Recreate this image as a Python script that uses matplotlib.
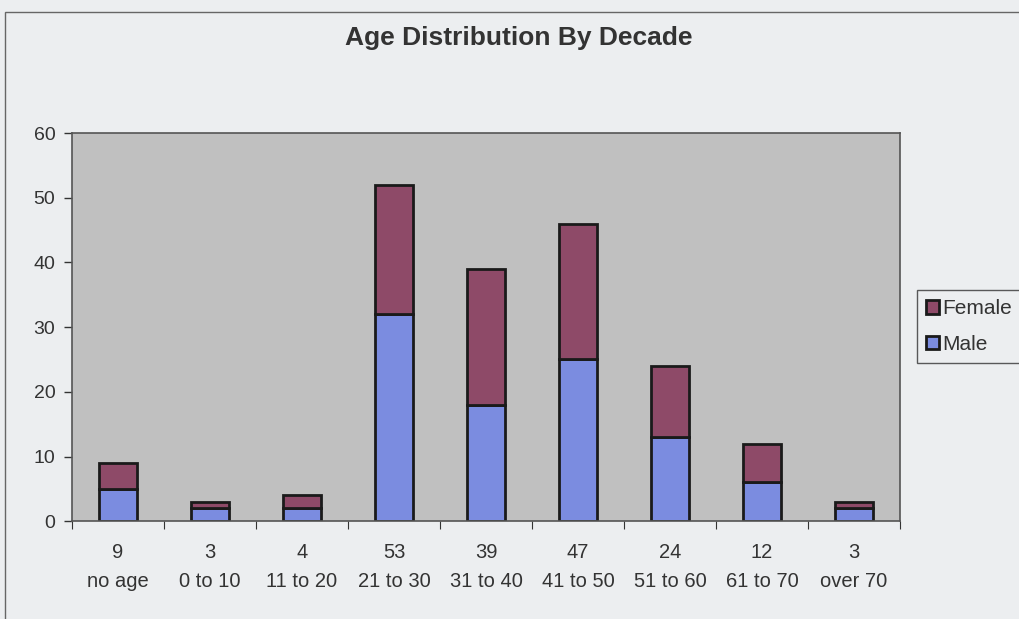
import matplotlib
matplotlib.use('Agg')
import matplotlib.pyplot as plt
from matplotlib.patches import Rectangle
import numpy as np

# data
age_groups = ['no age', '0 to 10', '11 to 20', '21 to 30', '31 to 40', '41 to 50', '51 to 60', '61 to 70', 'over 70']
group_totals = [9, 3, 4, 53, 39, 47, 24, 12, 3]  # printed counts under each bar
male = [5, 2, 2, 32, 18, 25, 13, 6, 2]
female = [4, 1, 2, 20, 21, 21, 11, 6, 1]

male_color = '#7b8ce0'
female_color = '#8e4a68'

plt.rcParams['font.family'] = ['Liberation Sans', 'DejaVu Sans']

fig = plt.figure(figsize=(10.2, 6.19), dpi=100, facecolor='#eceef0')
ax = fig.add_axes([0.0706, 0.158, 0.8118, 0.627])
ax.set_facecolor('#c0c0c0')

x = np.arange(len(age_groups))
b_male = ax.bar(x, male, width=0.42, color=male_color, edgecolor='#1a1a1a', linewidth=2, label='Male', zorder=2)
b_female = ax.bar(x, female, width=0.42, bottom=male, color=female_color, edgecolor='#1a1a1a', linewidth=2, label='Female', zorder=2)

ax.set_xlim(-0.5, len(age_groups) - 0.5)
ax.set_ylim(0, 60)
ax.set_yticks(range(0, 61, 10))
ax.tick_params(axis='y', direction='out', length=6, width=1, colors='#333333', labelsize=14, pad=6)

# ticks sit between categories, labels at centres
ax.set_xticks(np.arange(-0.5, len(age_groups), 1.0))
ax.set_xticklabels([])
ax.set_xticks(x, minor=True)
ax.set_xticklabels(['%d\n%s' % (t, g) for t, g in zip(group_totals, age_groups)], minor=True, fontsize=14.5, color='#333333', linespacing=1.65)
ax.tick_params(axis='x', which='major', direction='out', length=6, colors='#333333')
ax.tick_params(axis='x', which='minor', length=0, pad=16)

for s in ax.spines.values():
    s.set_color('#555555')
    s.set_linewidth(1.2)

fig.text(0.509, 0.938, 'Age Distribution By Decade', ha='center', va='center', fontsize=19, fontweight='bold', color='#333333')

# legend with Female on top
leg = fig.legend([b_female, b_male], ['Female', 'Male'], loc='upper left', bbox_to_anchor=(0.899, 0.5315),
                 fontsize=15, frameon=True, fancybox=False, edgecolor='#333333', facecolor='#eceef0',
                 handlelength=0.6, handleheight=0.6, handletextpad=0.15, borderpad=0.45, labelspacing=0.8, borderaxespad=0)
leg.get_frame().set_linewidth(1)
for t in leg.get_texts():
    t.set_color('#333333')

# outer chart frame
fig.patches.append(Rectangle((0.005, -0.01), 1.0, 0.99, transform=fig.transFigure, fill=False, edgecolor='#666666', linewidth=1))

fig.savefig('out.png', dpi=100, facecolor=fig.get_facecolor())
